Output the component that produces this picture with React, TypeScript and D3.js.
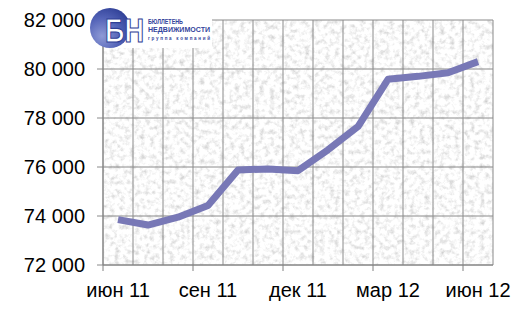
import React from "react";
import * as d3 from "d3";

const months = [
  "июн 11", "июл 11", "авг 11", "сен 11", "окт 11", "ноя 11", "дек 11",
  "янв 12", "фев 12", "мар 12", "апр 12", "май 12", "июн 12",
];
const values = [73850, 73630, 73950, 74430, 75880, 75920, 75850, 76700, 77650, 79580, 79700, 79850, 80300];
const tickLabels = ["июн 11", "сен 11", "дек 11", "мар 12", "июн 12"];
const yTicks = [72000, 74000, 76000, 78000, 80000, 82000];

const W = 525, H = 312;
const L = 103, R = 493, T = 20, B = 265;
const font = "'Liberation Sans', Arial, sans-serif";

export default function App() {
  const x = d3.scaleBand<string>().domain(months).range([L, R]);
  const y = d3.scaleLinear().domain([72000, 82000]).range([B, T]);
  const fmt = (v: number) => d3.format(",")(v).replace(",", " ");
  const line = d3
    .line<number>()
    .x((_, i) => (x(months[i]) as number) + x.bandwidth() / 2)
    .y((d) => y(d));
  const boundaries = months.map((m) => x(m) as number).concat([R]);

  return (
    <svg width={W} height={H} style={{ position: "absolute", left: 0, top: 0, background: "#fff" }}>
      <defs>
        <filter id="granite" x="0" y="0" width="100%" height="100%">
          <feTurbulence type="fractalNoise" baseFrequency="0.2" numOctaves="3" seed="5" />
          <feColorMatrix
            type="matrix"
            values="0.8 0 0 0 0.56  0.8 0 0 0 0.56  0.8 0 0 0 0.56  0 0 0 0 1"
          />
        </filter>
        <radialGradient id="ball" cx="30%" cy="70%" r="80%">
          <stop offset="0" stopColor="#8e9ad6" />
          <stop offset="0.55" stopColor="#5464b8" />
          <stop offset="1" stopColor="#2f3f96" />
        </radialGradient>
      </defs>
      <rect x={L} y={T} width={R - L} height={B - T} filter="url(#granite)" />
      {yTicks.map((t) => (
        <line key={"h" + t} x1={L - 6} x2={R} y1={y(t)} y2={y(t)} stroke="#8a8a8a" strokeWidth={1} />
      ))}
      {boundaries.map((bx, i) => (
        <line key={"v" + i} x1={bx} x2={bx} y1={T} y2={B} stroke="#8a8a8a" strokeWidth={1} />
      ))}
      <line x1={L} x2={L} y1={T} y2={B} stroke="#808080" />
      <line x1={L} x2={R} y1={B} y2={B} stroke="#808080" />
      {tickLabels.map((lab) => {
        const bx = x(lab) as number;
        return (
          <g key={lab}>
            <line x1={bx} x2={bx} y1={B} y2={B + 6} stroke="#808080" />
            <text x={bx + x.bandwidth() / 2} y={297} textAnchor="middle" fontFamily={font} fontSize={20} fill="#000">
              {lab}
            </text>
          </g>
        );
      })}
      {yTicks.map((t) => (
        <text key={"t" + t} x={85} y={y(t) + 7} textAnchor="end" fontFamily={font} fontSize={20} fill="#000">
          {fmt(t)}
        </text>
      ))}
      <path d={line(values) as string} fill="none" stroke="#7878b6" strokeWidth={7} strokeLinejoin="round" />
      {/* logo */}
      <g>
        <rect x={104} y={13} width={108} height={35} fill="#fff" />
        <circle cx={110} cy={28} r={20} fill="url(#ball)" />
        <text transform="translate(105,42) scale(0.82,1)" fontFamily={font} fontWeight="bold" fontSize={33} fill="#fff" stroke="#2f3f96" strokeWidth={1.2}>
          БН
        </text>
        <text x={148} y={24} fontFamily={font} fontWeight="bold" fontSize={7} fill="#34449c" textLength={35} lengthAdjust="spacingAndGlyphs">БЮЛЛЕТЕНЬ</text>
        <text x={148} y={32} fontFamily={font} fontWeight="bold" fontSize={7} fill="#34449c" textLength={62} lengthAdjust="spacingAndGlyphs">НЕДВИЖИМОСТИ</text>
        <text x={148} y={39.5} fontFamily={font} fontWeight="bold" fontSize={4.5} fill="#34449c" textLength={62} lengthAdjust="spacing">группа компаний</text>
      </g>
    </svg>
  );
}
